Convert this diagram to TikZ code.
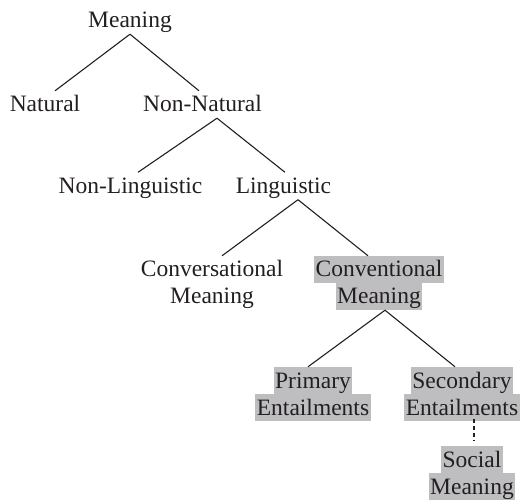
\documentclass[tikz,border=0pt]{standalone}
\usepackage{fontspec}
\setmainfont{Liberation Serif}
\usepackage{tikz}
\definecolor{hlgray}{RGB}{190,190,193}
\definecolor{ink}{RGB}{35,31,32}
\newcommand{\lstrut}{\rule[-6pt]{0pt}{27pt}}
\newcommand{\hl}[1]{{\setlength{\fboxsep}{0pt}\colorbox{hlgray}{\lstrut\hspace{1.5pt}#1\hspace{1.5pt}}}}

\begin{document}
\begin{tikzpicture}[x=1pt,y=-1pt,
    word/.style={inner sep=0pt,align=center,text=ink,
      font=\fontsize{23.5}{27}\selectfont},
    branch/.style={draw=ink,line width=1.1pt}]
\useasboundingbox (0,0) rectangle (523,500);

\node[word] (mean) at (130,20.5){\lstrut Meaning};
\node[word] (nat) at (45,104.5){\lstrut Natural};
\node[word] (nonnat) at (202.5,104.5){\lstrut Non-Natural};
\node[word] (nonling) at (130.5,186){\lstrut Non-Linguistic};
\node[word] (ling) at (283.5,186){\lstrut Linguistic};
\node[word] (convers) at (212,283){\lstrut Conversational\\\lstrut Meaning};
\node[word] (conven) at (379,283){\hl{Conventional}\\\hl{Meaning}};
\node[word] (prim) at (313,394){\hl{Primary}\\\hl{Entailments}};
\node[word] (sec) at (462,394){\hl{Secondary}\\\hl{Entailments}};
\node[word] (soc) at (472,473){\hl{Social}\\\hl{Meaning}};

\draw[branch](mean.south)--([xshift=10pt]nat.north);
\draw[branch](mean.south)--([xshift=-3.5pt]nonnat.north);
\draw[branch]([xshift=14.5pt]nonnat.south)--([xshift=7.5pt]nonling.north);
\draw[branch]([xshift=14.5pt]nonnat.south)--([xshift=1.5pt]ling.north);
\draw[branch]([xshift=14.5pt]ling.south)--([xshift=10pt]convers.north);
\draw[branch]([xshift=14.5pt]ling.south)--([xshift=-11pt]conven.north);
\draw[branch]([xshift=6pt]conven.south)--([xshift=-5pt]prim.north);
\draw[branch]([xshift=6pt]conven.south)--([xshift=-7pt]sec.north);

\draw[branch,dash pattern=on 4pt off 3pt]([xshift=12pt,yshift=2pt]sec.south)--([xshift=2pt,yshift=5pt]soc.north);
\end{tikzpicture}
\end{document}
